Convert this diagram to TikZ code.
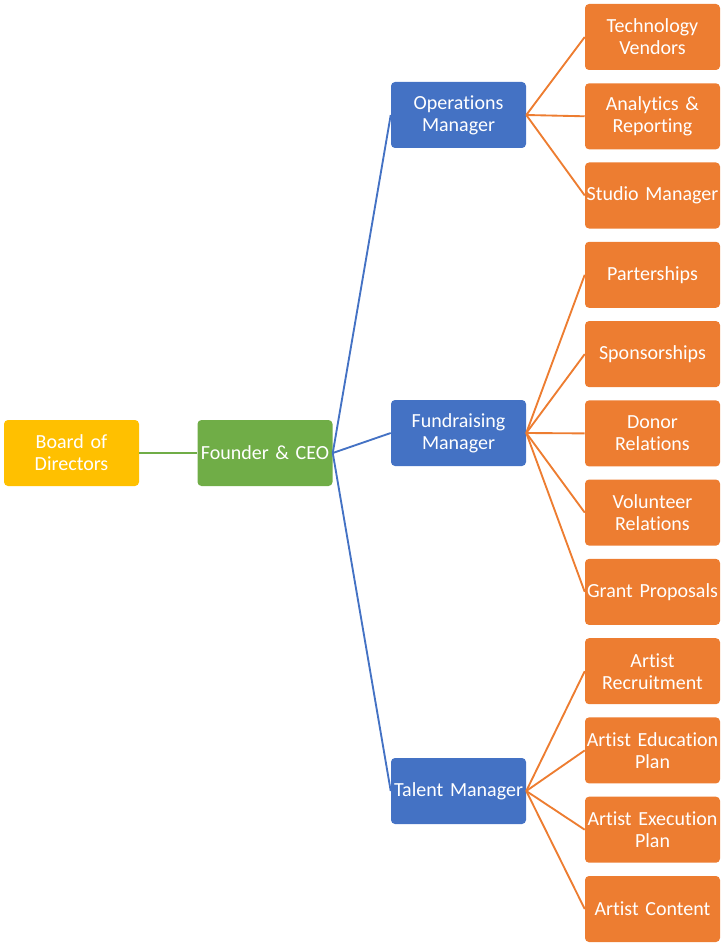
\documentclass[tikz,border=0pt]{standalone}
\usepackage{fontspec}
\setmainfont{Carlito}[Ligatures=NoCommon]
\begin{document}
\begin{tikzpicture}[x=0.75pt,y=-0.75pt,
  box/.style={rectangle, rounded corners=3pt, minimum width=101.25pt, minimum height=49.5pt, inner sep=0pt, align=center, text=white, font=\fontsize{15}{16.5}\selectfont, text width=101pt},
  yel/.style={box, fill=yellowC},
  grn/.style={box, fill=greenC},
  blu/.style={box, fill=blueC},
  org/.style={box, fill=orangeC},
  gl/.style={draw=greenC, line width=1.5pt},
  bl/.style={draw=blueC, line width=1.4pt},
  ol/.style={draw=orangeC, line width=1.4pt}]
\definecolor{yellowC}{HTML}{FFC000}
\definecolor{greenC}{HTML}{70AD47}
\definecolor{blueC}{HTML}{4472C4}
\definecolor{orangeC}{HTML}{ED7D31}
\useasboundingbox (0,0) rectangle (723,945);
\node[yel] (bod) at (71.5,453) {Board of\\Directors};
\node[grn] (ceo) at (265,453) {Founder \& CEO};
\node[blu] (ops) at (458.5,115) {Operations\\Manager};
\node[blu] (fund) at (458.5,433) {Fundraising\\Manager};
\node[blu] (tal) at (458.5,791) {Talent Manager};
\node[org] (c1) at (652.5,37) {Technology\\Vendors};
\node[org] (c2) at (652.5,116.3) {Analytics \&\\Reporting};
\node[org] (c3) at (652.5,195.5) {Studio Manager};
\node[org] (c4) at (652.5,274.8) {Parterships};
\node[org] (c5) at (652.5,354.1) {Sponsorships};
\node[org] (c6) at (652.5,433.4) {Donor\\Relations};
\node[org] (c7) at (652.5,512.6) {Volunteer\\Relations};
\node[org] (c8) at (652.5,591.9) {Grant Proposals};
\node[org] (c9) at (652.5,671.2) {Artist\\Recruitment};
\node[org] (c10) at (652.5,750.4) {Artist Education\\Plan};
\node[org] (c11) at (652.5,829.7) {Artist Execution\\Plan};
\node[org] (c12) at (652.5,909) {Artist Content};
\draw[gl] (bod.east) -- (ceo.west);
\foreach \m in {ops,fund,tal} \draw[bl] (ceo.east) -- (\m.west);
\foreach \c in {c1,c2,c3} \draw[ol] (ops.east) -- (\c.west);
\foreach \c in {c4,c5,c6,c7,c8} \draw[ol] (fund.east) -- (\c.west);
\foreach \c in {c9,c10,c11,c12} \draw[ol] (tal.east) -- (\c.west);
\end{tikzpicture}
\end{document}
